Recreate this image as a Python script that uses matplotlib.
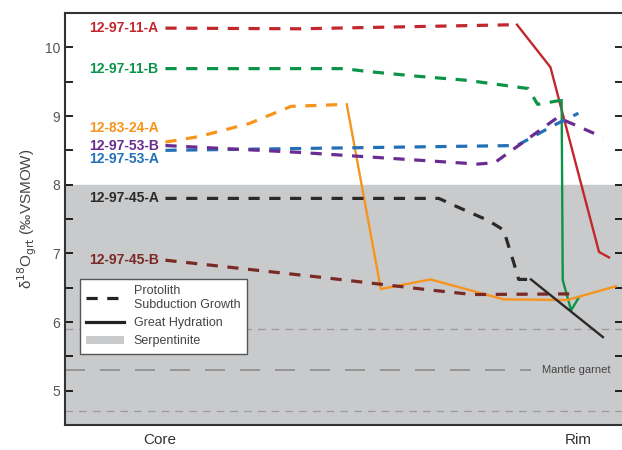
import matplotlib
matplotlib.use("Agg")
import matplotlib.pyplot as plt
from matplotlib.lines import Line2D
from matplotlib.patches import Patch
from matplotlib.ticker import MultipleLocator

plt.rcParams["font.family"] = ["Liberation Sans", "DejaVu Sans"]

# profile position: 0 = left edge, 100 = right edge (core ~17, rim ~92)
a11_dash_x = [18, 42, 81]
a11_dash_y = [10.28, 10.27, 10.33]
a11_solid_x = [81, 87, 95.7, 97.5]
a11_solid_y = [10.33, 9.71, 7.02, 6.94]

b11_dash_x = [18, 50, 54, 63, 72, 83, 84.7, 89]
b11_dash_y = [9.69, 9.69, 9.65, 9.58, 9.52, 9.40, 9.17, 9.23]
b11_solid_x = [89, 89.2, 90.7, 92.1]
b11_solid_y = [9.23, 6.61, 6.17, 6.36]

a24_dash_x = [18, 24, 33, 40.5, 50.5]
a24_dash_y = [8.62, 8.70, 8.89, 9.14, 9.17]
a24_solid_x = [50.5, 56.6, 65.5, 78.6, 90, 98.7]
a24_solid_y = [9.17, 6.48, 6.62, 6.33, 6.32, 6.52]

a53_x = [18, 81, 87.5, 92]
a53_y = [8.50, 8.57, 8.86, 9.04]

b53_x = [18, 42, 74, 77, 88.3, 96.4]
b53_y = [8.57, 8.47, 8.30, 8.32, 8.98, 8.69]

a45_dash_x = [18, 67, 70.5, 75.8, 78.6, 80.4, 81.3, 83.5]
a45_dash_y = [7.80, 7.80, 7.67, 7.48, 7.34, 6.87, 6.62, 6.62]
a45_solid_x = [83.5, 96.4]
a45_solid_y = [6.62, 5.78]

b45_x = [18, 46, 65, 73, 92]
b45_y = [6.90, 6.65, 6.47, 6.40, 6.41]

labels = ["12-97-11-A", "12-97-11-B", "12-83-24-A", "12-97-53-B",
          "12-97-53-A", "12-97-45-A", "12-97-45-B"]
label_y = [10.28, 9.68, 8.82, 8.57, 8.37, 7.80, 6.90]
colors = ["#C1272D", "#0B9447", "#F7941D", "#6A2C91",
          "#2270B8", "#2B2A29", "#7A2A24"]

fig = plt.figure(figsize=(6.22, 4.5), dpi=100)
ax = fig.add_axes([65 / 622, 25 / 450, 558 / 622, 412 / 450])
ax.set_xlim(0, 100)
ax.set_ylim(4.5, 10.5)

ax.axhspan(4.5, 8, color="#C9CACC", zorder=0)
ax.axhline(5.9, color="#9A9A9A", lw=0.9, ls=(0, (6, 5)), zorder=1)
ax.axhline(4.7, color="#9A9A9A", lw=0.9, ls=(0, (6, 5)), zorder=1)
ax.plot([0, 83.5], [5.3, 5.3], color="#8C8C8C", lw=1.2, ls=(0, (12, 9)), zorder=1)
ax.text(85.5, 5.3, "Mantle garnet", fontsize=8, color="#444444", va="center")

dash = (0, (3.5, 3.0))
lw_d = 2.3
lw_s = 1.7

ax.plot(a11_dash_x, a11_dash_y, color=colors[0], lw=lw_d, ls=dash)
ax.plot(a11_solid_x, a11_solid_y, color=colors[0], lw=lw_s)
ax.plot(b11_dash_x, b11_dash_y, color=colors[1], lw=lw_d, ls=dash)
ax.plot(b11_solid_x, b11_solid_y, color=colors[1], lw=lw_s)
ax.plot(a24_dash_x, a24_dash_y, color=colors[2], lw=lw_d, ls=dash)
ax.plot(a24_solid_x, a24_solid_y, color=colors[2], lw=lw_s)
ax.plot(a53_x, a53_y, color=colors[4], lw=lw_d, ls=dash)
ax.plot(b53_x, b53_y, color=colors[3], lw=lw_d, ls=dash)
ax.plot(b45_x, b45_y, color=colors[6], lw=lw_d, ls=dash)
ax.plot(a45_dash_x, a45_dash_y, color=colors[5], lw=lw_d, ls=dash)
ax.plot(a45_solid_x, a45_solid_y, color=colors[5], lw=lw_s)

for lab, ly, c in zip(labels, label_y, colors):
    ax.text(16.8, ly, lab, color=c, fontsize=10, fontweight="bold",
            ha="right", va="center")

ax.set_xticks([17, 92])
ax.set_xticklabels(["Core", "Rim"], fontsize=11, color="#333333")
ax.tick_params(axis="x", length=0, pad=6)

ax.yaxis.set_major_locator(MultipleLocator(1))
ax.yaxis.set_minor_locator(MultipleLocator(0.5))
ax.set_yticks([5, 6, 7, 8, 9, 10])
ax.tick_params(axis="y", which="both", direction="in", right=True,
               length=6, width=1.2, labelsize=10, labelcolor="#555555")
ax.set_ylabel("δ$^{18}$O$_{\\mathrm{grt}}$ (‰VSMOW)", fontsize=11,
              color="#444444", labelpad=4)
for s in ax.spines.values():
    s.set_linewidth(1.5)
    s.set_color("#333333")

handles = [Line2D([], [], color="#222222", lw=2.3, ls=(0, (3.5, 3.0))),
           Line2D([], [], color="#222222", lw=2.3),
           Patch(facecolor="#C9CACC", edgecolor="none")]
leg = ax.legend(handles, ["Protolith\nSubduction Growth", "Great Hydration",
                          "Serpentinite"],
                loc="upper left", bbox_to_anchor=(0.027, 0.355), fontsize=9,
                fancybox=False, framealpha=1, edgecolor="#555555",
                handlelength=3.0, labelspacing=0.5, borderpad=0.5,
                borderaxespad=0)
for t in leg.get_texts():
    t.set_color("#444444")

fig.savefig("out.png", dpi=100)
